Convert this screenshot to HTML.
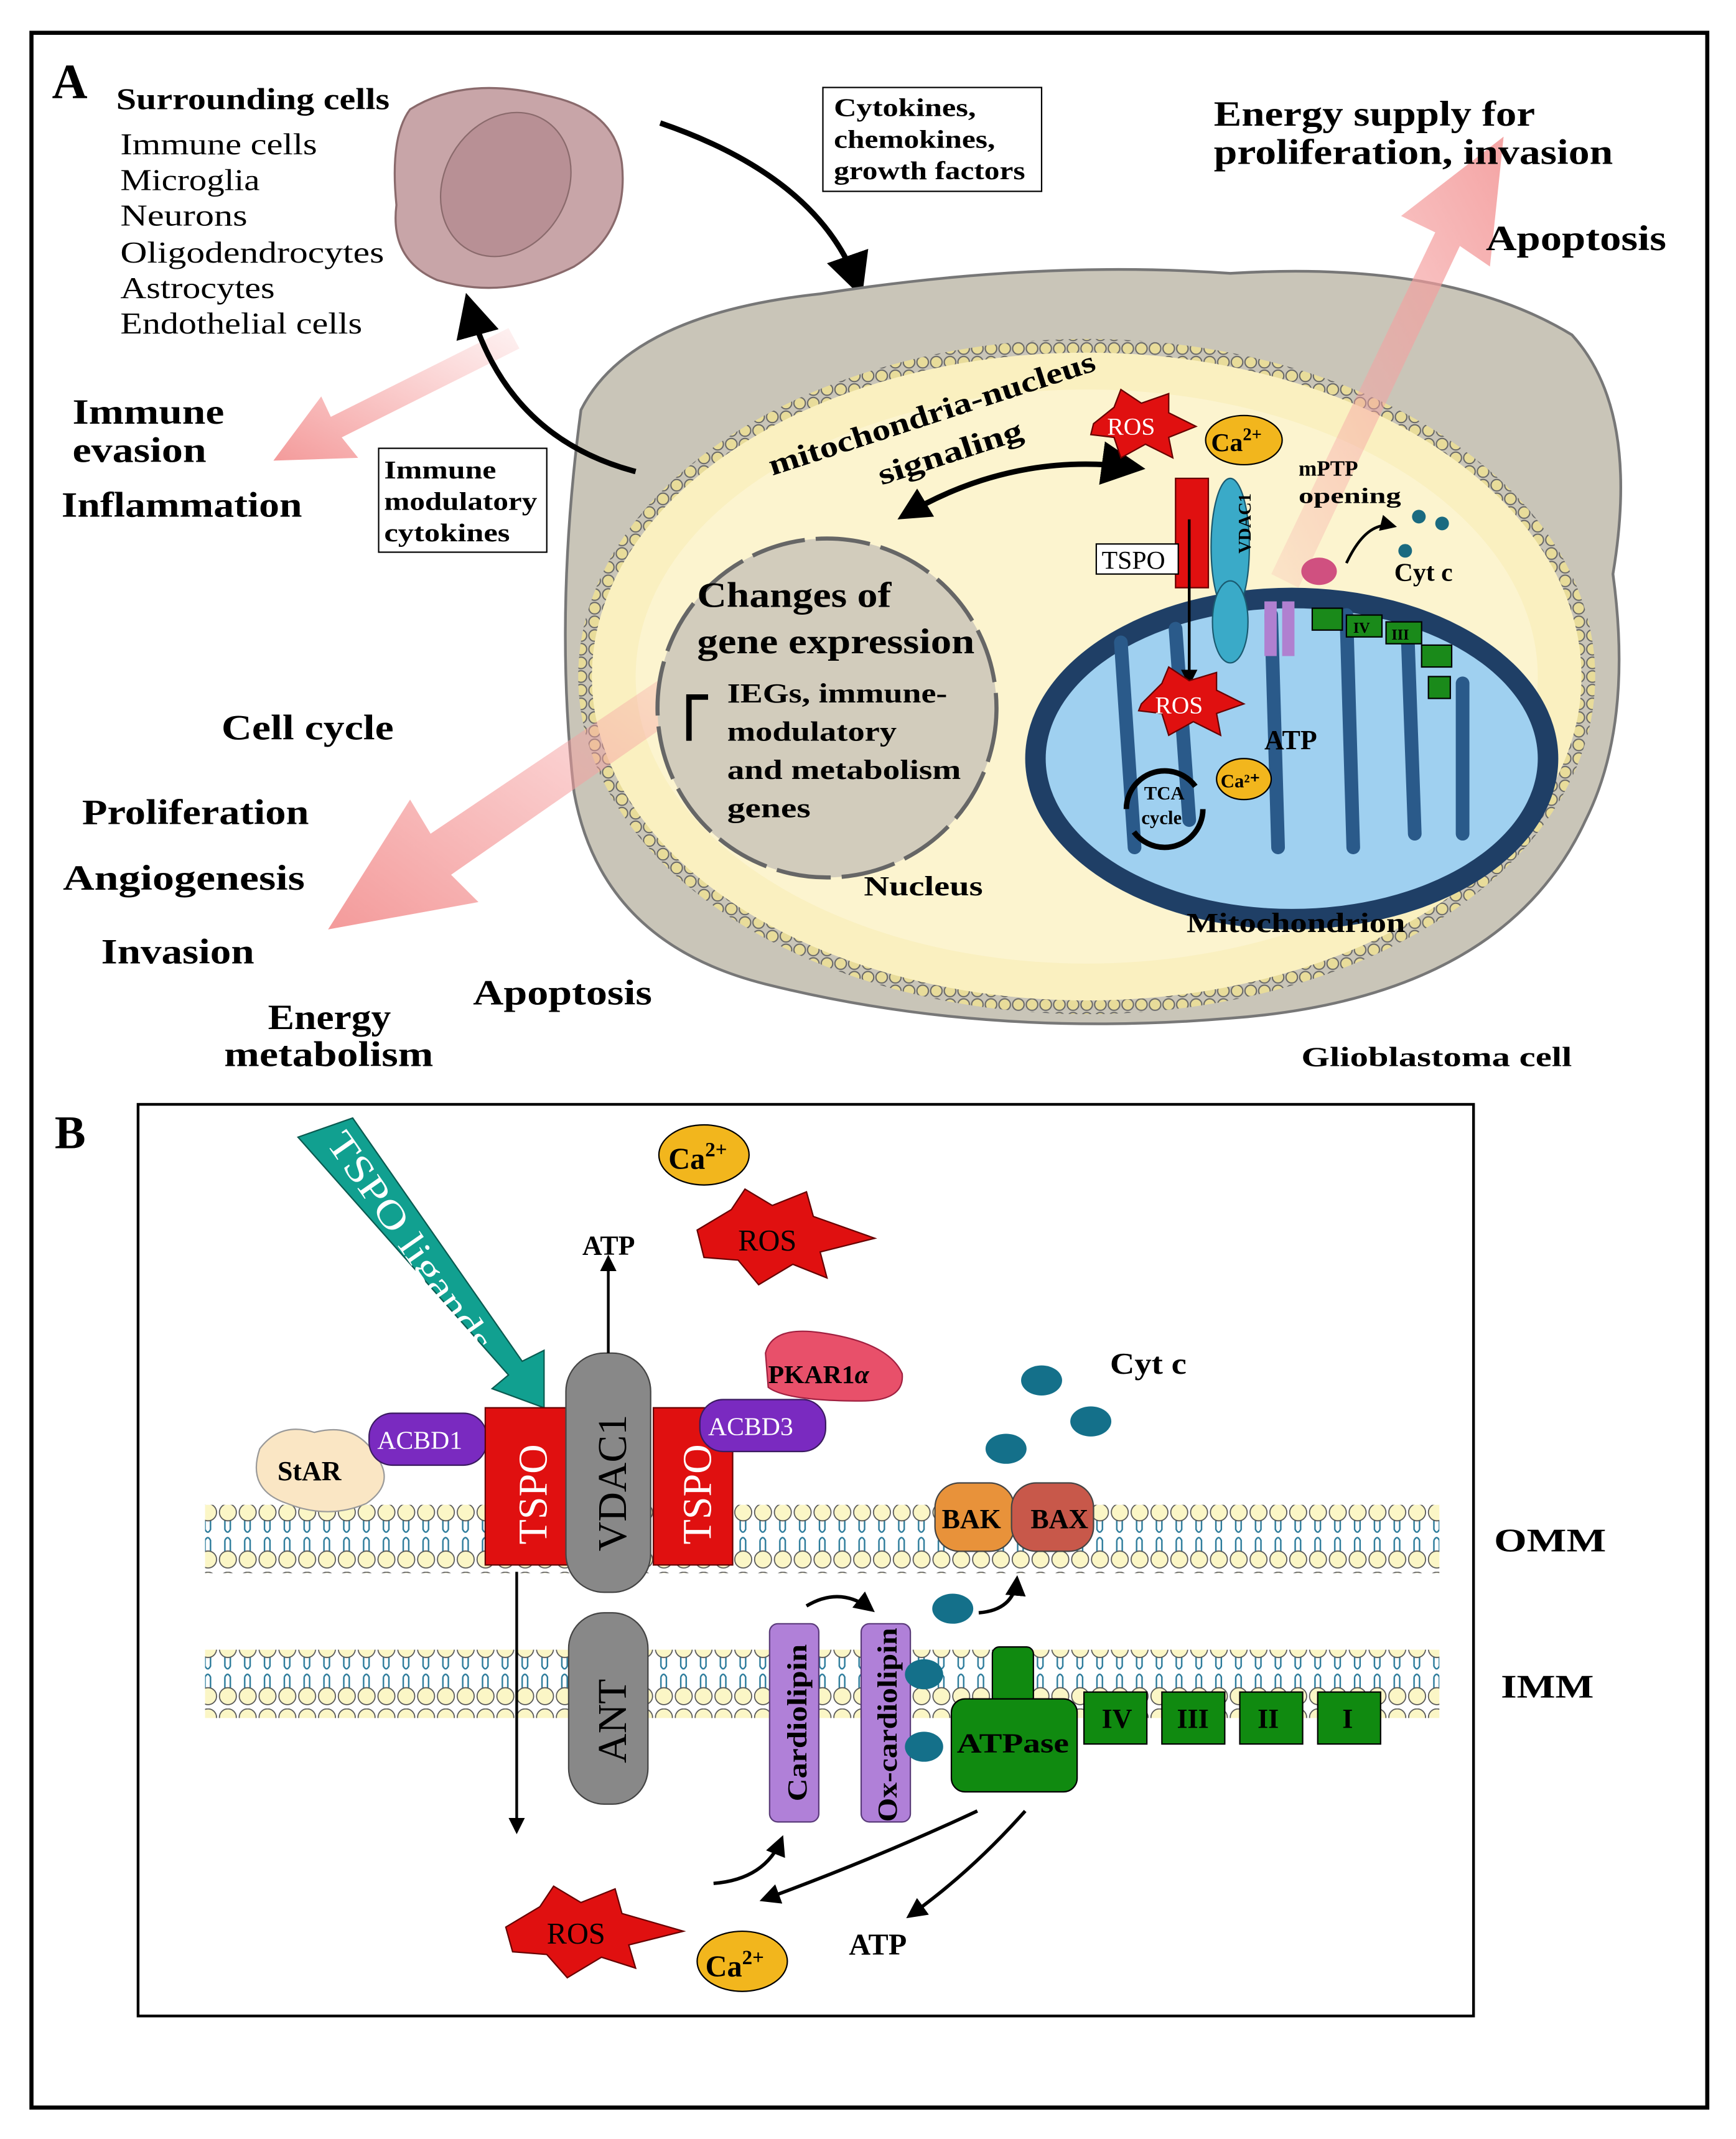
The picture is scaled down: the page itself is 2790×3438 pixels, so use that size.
<!DOCTYPE html>
<html><head><meta charset="utf-8"><style>
html,body{margin:0;padding:0;background:#fff}
svg{display:block}
text{font-family:"Liberation Serif",serif;font-weight:bold}
.n{font-weight:normal}
</style></head><body>
<svg width="2790" height="3438" viewBox="0 0 1270 1565" xmlns="http://www.w3.org/2000/svg">
<defs>
<pattern id="mem" x="0" y="0" width="14.5" height="50" patternUnits="userSpaceOnUse">
<path d="M5 12 v7 q2 4 4 0 v-7 M5 27 q2 -4 4 0 v8 M5 27 v8" stroke="#2a7a9a" stroke-width="1.1" fill="none"/>
<circle cx="7.2" cy="6.5" r="6.2" fill="#fbf6c6" stroke="#555" stroke-width="0.8"/>
<circle cx="7.2" cy="41" r="6.2" fill="#fbf6c6" stroke="#555" stroke-width="0.8"/>
</pattern>
<pattern id="dots" width="10" height="10" patternUnits="userSpaceOnUse"><circle cx="5" cy="5" r="4.2" fill="#e8dc9a" stroke="#666" stroke-width="0.9"/></pattern>
<linearGradient id="pk1" x1="0" y1="1" x2="1" y2="0"><stop offset="0" stop-color="#f7a7a7" stop-opacity="0.2"/><stop offset="1" stop-color="#f39a9a" stop-opacity="0.9"/></linearGradient>
<linearGradient id="pk2" x1="1" y1="0" x2="0" y2="1"><stop offset="0" stop-color="#f7a7a7" stop-opacity="0.15"/><stop offset="1" stop-color="#f39595" stop-opacity="0.95"/></linearGradient>
<marker id="ah" markerWidth="8" markerHeight="8" refX="6" refY="4" orient="auto" markerUnits="strokeWidth"><path d="M0 0 L8 4 L0 8 z" fill="#000"/></marker>
<marker id="ah2" markerWidth="6" markerHeight="6" refX="5" refY="3" orient="auto" markerUnits="strokeWidth"><path d="M0 0 L6 3 L0 6 z" fill="#000"/></marker>
<marker id="as" markerWidth="6" markerHeight="6" refX="1" refY="3" orient="auto" markerUnits="strokeWidth"><path d="M6 0 L0 3 L6 6 z" fill="#000"/></marker>
</defs>
<rect x="0" y="0" width="1270" height="1565" fill="#fff"/>
<rect x="23" y="24" width="1226" height="1518" fill="none" stroke="#000" stroke-width="3"/>
<text x="38" y="72" font-size="36">A</text>
<text x="40" y="840" font-size="34">B</text>

<!-- surrounding cell -->
<path d="M300 80 Q340 55 400 70 Q450 80 455 120 Q460 170 420 195 Q370 220 320 205 Q285 190 290 150 Q285 100 300 80z" fill="#c8a5a8" stroke="#8a6a6c" stroke-width="1.5"/>
<ellipse cx="370" cy="135" rx="45" ry="55" transform="rotate(30 370 135)" fill="#b89095" stroke="#8a6a6c"/>
<text x="85" y="80" font-size="22" textLength="200" lengthAdjust="spacingAndGlyphs">Surrounding cells</text>
<g font-size="22">
<text class="n" x="88" y="113" textLength="144" lengthAdjust="spacingAndGlyphs">Immune cells</text>
<text class="n" x="88" y="139" textLength="102" lengthAdjust="spacingAndGlyphs">Microglia</text>
<text class="n" x="88" y="165" textLength="93" lengthAdjust="spacingAndGlyphs">Neurons</text>
<text class="n" x="88" y="192" textLength="193" lengthAdjust="spacingAndGlyphs">Oligodendrocytes</text>
<text class="n" x="88" y="218" textLength="113" lengthAdjust="spacingAndGlyphs">Astrocytes</text>
<text class="n" x="88" y="244" textLength="177" lengthAdjust="spacingAndGlyphs">Endothelial cells</text>
</g>
<rect x="602" y="64" width="160" height="76" fill="#fff" stroke="#000"/>
<text x="610" y="85" font-size="19" textLength="104" lengthAdjust="spacingAndGlyphs">Cytokines,</text>
<text x="610" y="108" font-size="19" textLength="118" lengthAdjust="spacingAndGlyphs">chemokines,</text>
<text x="610" y="131" font-size="19" textLength="140" lengthAdjust="spacingAndGlyphs">growth factors</text>
<path d="M483 90 Q600 130 628 210" fill="none" stroke="#000" stroke-width="4" marker-end="url(#ah)"/>

<!-- glioblastoma cell -->
<path d="M425 300 Q460 230 600 215 Q760 190 900 200 Q1060 190 1150 245 Q1200 300 1180 420 Q1195 530 1160 600 Q1100 730 900 745 Q720 760 560 720 Q440 690 420 580 Q405 450 425 300z" fill="#c9c5b8" stroke="#777" stroke-width="2"/>
<ellipse cx="795" cy="495" rx="372" ry="247" fill="url(#dots)"/>
<ellipse cx="795" cy="495" rx="362" ry="237" fill="#faf0c0"/>
<ellipse cx="795" cy="495" rx="330" ry="210" fill="#fcf5d5" opacity="0.7"/>
<!-- pink arrows -->
<path d="M930 420 L1050 170 L1025 158 L1100 100 L1090 195 L1068 180 L950 430 z" fill="url(#pk1)"/>
<path d="M560 480 L330 640 L350 660 L240 680 L300 585 L315 610 L545 455 z" fill="url(#pk2)"/>
<path d="M380 255 L250 320 L262 335 L200 337 L235 290 L242 305 L372 240 z" fill="url(#pk2)"/>
<!-- nucleus -->
<circle cx="605" cy="518" r="124" fill="#d2ccbc" stroke="#666" stroke-width="3" stroke-dasharray="40 8"/>
<text x="510" y="444" font-size="26" textLength="142" lengthAdjust="spacingAndGlyphs">Changes of</text>
<text x="510" y="478" font-size="26" textLength="203" lengthAdjust="spacingAndGlyphs">gene expression</text>
<text x="532" y="514" font-size="20" textLength="161" lengthAdjust="spacingAndGlyphs">IEGs, immune-</text>
<text x="532" y="542" font-size="20" textLength="124" lengthAdjust="spacingAndGlyphs">modulatory</text>
<text x="532" y="570" font-size="20" textLength="171" lengthAdjust="spacingAndGlyphs">and metabolism</text>
<text x="532" y="598" font-size="20" textLength="61" lengthAdjust="spacingAndGlyphs">genes</text>
<path d="M504 542 V510 H518" fill="none" stroke="#000" stroke-width="4"/>
<text x="632" y="655" font-size="20" textLength="87" lengthAdjust="spacingAndGlyphs">Nucleus</text>
<text x="565" y="348" font-size="22" transform="rotate(-18 565 348)" textLength="250" lengthAdjust="spacingAndGlyphs">mitochondria-nucleus</text>
<text x="645" y="355" font-size="22" transform="rotate(-18 645 355)" textLength="110" lengthAdjust="spacingAndGlyphs">signaling</text>
<path d="M660 378 Q740 330 830 342" fill="none" stroke="#000" stroke-width="4" marker-start="url(#as)" marker-end="url(#ah)"/>
<!-- mitochondrion -->
<ellipse cx="945" cy="555" rx="195" ry="125" fill="#1f3f66"/>
<ellipse cx="945" cy="555" rx="180" ry="110" fill="#9fd0f0"/>
<path d="M820 470 L830 620 M860 460 L870 600 M930 450 L935 620 M985 450 L990 620 M1030 470 L1035 610 M1070 500 L1070 610" stroke="#2a5a8a" stroke-width="10" stroke-linecap="round"/>
<circle cx="852" cy="592" r="28" fill="none" stroke="#000" stroke-width="4" stroke-dasharray="70 18"/>
<text x="837" y="585" font-size="14">TCA</text><text x="835" y="603" font-size="14">cycle</text>
<ellipse cx="910" cy="570" rx="20" ry="15" fill="#f2b61d" stroke="#000"/><text x="893" y="576" font-size="14">Ca²⁺</text>
<text x="925" y="548" font-size="20">ATP</text>
<text x="868" y="682" font-size="20" textLength="160" lengthAdjust="spacingAndGlyphs">Mitochondrion</text>
<text x="952" y="780" font-size="20" textLength="198" lengthAdjust="spacingAndGlyphs">Glioblastoma cell</text>
<!-- TSPO etc -->
<rect x="860" y="350" width="24" height="80" fill="#e01010" stroke="#600"/>
<ellipse cx="900" cy="400" rx="14" ry="50" fill="#3aaac8" stroke="#1a5a70"/>
<text x="905" y="415" font-size="13" transform="rotate(-90 905 405)">VDAC1</text>
<ellipse cx="900" cy="455" rx="13" ry="30" fill="#3aaac8" stroke="#1a5a70"/>
<rect x="802" y="398" width="60" height="22" fill="#fff" stroke="#000"/><text class="n" x="806" y="416" font-size="19">TSPO</text>
<path d="M870 380 V500" stroke="#000" stroke-width="2" marker-end="url(#ah2)"/>
<rect x="925" y="440" width="9" height="40" fill="#b080d0"/><rect x="938" y="440" width="9" height="40" fill="#b080d0"/>
<rect x="960" y="445" width="22" height="16" fill="#1a8a1a" stroke="#000"/><rect x="985" y="450" width="26" height="16" fill="#1a8a1a" stroke="#000"/><rect x="1014" y="455" width="26" height="16" fill="#1a8a1a" stroke="#000"/><rect x="1040" y="472" width="22" height="16" fill="#1a8a1a" stroke="#000"/><rect x="1045" y="495" width="16" height="16" fill="#1a8a1a" stroke="#000"/>
<text x="990" y="463" font-size="11">IV</text><text x="1018" y="468" font-size="11">III</text>
<ellipse cx="965" cy="418" rx="13" ry="10" fill="#d05080"/>
<path d="M985 412 Q1000 380 1020 385" fill="none" stroke="#000" stroke-width="2" marker-end="url(#ah2)"/>
<circle cx="1038" cy="378" r="5" fill="#1a6a80"/><circle cx="1055" cy="383" r="5" fill="#1a6a80"/><circle cx="1028" cy="403" r="5" fill="#1a6a80"/>
<text x="950" y="348" font-size="16">mPTP</text><text x="950" y="368" font-size="16" textLength="75" lengthAdjust="spacingAndGlyphs">opening</text>
<text x="1020" y="425" font-size="19">Cyt c</text>
<polygon points="800,310 815,298 820,285 835,295 855,288 855,302 875,312 855,320 858,335 838,325 820,335 815,320 798,318" fill="#e01010" stroke="#600"/>
<text class="n" x="810" y="318" font-size="18" fill="#fff">ROS</text>
<ellipse cx="910" cy="322" rx="28" ry="18" fill="#f2b61d" stroke="#000"/><text x="886" y="330" font-size="19">Ca<tspan dy="-8" font-size="13">2+</tspan></text>
<polygon points="835,515 850,500 855,488 870,498 890,492 890,505 910,515 890,522 893,538 873,528 855,538 850,522 833,520" fill="#e01010" stroke="#600"/>
<text class="n" x="845" y="522" font-size="18" fill="#fff">ROS</text>
<text x="888" y="92" font-size="26" textLength="235" lengthAdjust="spacingAndGlyphs">Energy supply for</text>
<text x="888" y="120" font-size="26" textLength="292" lengthAdjust="spacingAndGlyphs">proliferation, invasion</text>
<text x="1087" y="183" font-size="26" textLength="132" lengthAdjust="spacingAndGlyphs">Apoptosis</text>
<!-- left labels -->
<text x="53" y="310" font-size="26" textLength="111" lengthAdjust="spacingAndGlyphs">Immune</text>
<text x="53" y="338" font-size="26" textLength="98" lengthAdjust="spacingAndGlyphs">evasion</text>
<text x="45" y="378" font-size="26" textLength="176" lengthAdjust="spacingAndGlyphs">Inflammation</text>
<rect x="277" y="328" width="123" height="76" fill="#fff" stroke="#000"/>
<text x="281" y="350" font-size="19" textLength="82" lengthAdjust="spacingAndGlyphs">Immune</text><text x="281" y="373" font-size="19" textLength="112" lengthAdjust="spacingAndGlyphs">modulatory</text><text x="281" y="396" font-size="19" textLength="92" lengthAdjust="spacingAndGlyphs">cytokines</text>
<path d="M465 345 Q370 320 343 222" fill="none" stroke="#000" stroke-width="4" marker-end="url(#ah)"/>
<text x="162" y="541" font-size="26" textLength="126" lengthAdjust="spacingAndGlyphs">Cell cycle</text>
<text x="60" y="603" font-size="26" textLength="166" lengthAdjust="spacingAndGlyphs">Proliferation</text>
<text x="46" y="651" font-size="26" textLength="177" lengthAdjust="spacingAndGlyphs">Angiogenesis</text>
<text x="74" y="705" font-size="26" textLength="112" lengthAdjust="spacingAndGlyphs">Invasion</text>
<text x="346" y="735" font-size="26" textLength="131" lengthAdjust="spacingAndGlyphs">Apoptosis</text>
<text x="196" y="753" font-size="26" textLength="90" lengthAdjust="spacingAndGlyphs">Energy</text>
<text x="164" y="780" font-size="26" textLength="153" lengthAdjust="spacingAndGlyphs">metabolism</text>

<!-- panel B -->
<rect x="101" y="808" width="977" height="667" fill="none" stroke="#000" stroke-width="2"/>
<rect x="150" y="1101" width="903" height="50" fill="url(#mem)"/>
<rect x="150" y="1207" width="903" height="50" fill="url(#mem)"/>
<!-- TSPO ligands arrow -->
<path d="M218 832 L258 818 L382 996 L398 988 L398 1030 L360 1016 L372 1006 z" fill="#11a090" stroke="#0a5a50"/>
<text class="n" x="238" y="836" font-size="28" fill="#fff" transform="rotate(55 238 836)" textLength="190" lengthAdjust="spacingAndGlyphs">TSPO ligands</text>
<!-- proteins -->
<path d="M190 1060 Q205 1040 230 1048 Q260 1040 275 1065 Q290 1085 268 1100 Q240 1112 210 1100 Q180 1090 190 1060z" fill="#fae6c4" stroke="#999"/>
<text x="203" y="1083" font-size="20">StAR</text>
<rect x="270" y="1034" width="86" height="38" rx="17" fill="#7a2ac0" stroke="#3a1a60"/>
<text class="n" x="276" y="1060" font-size="19" fill="#fff">ACBD1</text>
<rect x="355" y="1030" width="62" height="115" fill="#e01010" stroke="#600"/>
<text class="n" x="400" y="1130" font-size="30" fill="#fff" transform="rotate(-90 400 1130)">TSPO</text>
<rect x="414" y="990" width="62" height="175" rx="28" fill="#888" stroke="#444"/>
<text class="n" x="458" y="1135" font-size="30" transform="rotate(-90 458 1135)">VDAC1</text>
<rect x="416" y="1180" width="58" height="140" rx="26" fill="#888" stroke="#444"/>
<text class="n" x="458" y="1290" font-size="30" transform="rotate(-90 458 1290)">ANT</text>
<rect x="478" y="1030" width="58" height="115" fill="#e01010" stroke="#600"/>
<text class="n" x="520" y="1130" font-size="30" fill="#fff" transform="rotate(-90 520 1130)">TSPO</text>
<rect x="512" y="1024" width="92" height="38" rx="17" fill="#7a2ac0" stroke="#3a1a60"/>
<text class="n" x="518" y="1050" font-size="19" fill="#fff">ACBD3</text>
<path d="M560 990 Q565 970 600 975 Q650 982 660 1005 Q662 1025 630 1025 Q575 1025 562 1015z" fill="#e8506a" stroke="#a02040"/>
<text x="562" y="1012" font-size="19">PKAR1<tspan font-style="italic">α</tspan></text>
<path d="M445 990 V920" stroke="#000" stroke-width="2" marker-end="url(#ah2)"/>
<path d="M378 1150 V1340" stroke="#000" stroke-width="2" marker-end="url(#ah2)"/>
<text x="426" y="918" font-size="20">ATP</text>
<ellipse cx="515" cy="845" rx="33" ry="22" fill="#f2b61d" stroke="#000"/><text x="489" y="855" font-size="22">Ca<tspan dy="-9" font-size="15">2+</tspan></text>
<polygon points="510,900 535,885 545,870 565,882 590,872 595,890 640,906 600,916 605,935 580,925 555,940 540,922 515,920" fill="#e01010" stroke="#600"/>
<text class="n" x="540" y="915" font-size="22">ROS</text>
<rect x="684" y="1085" width="58" height="50" rx="18" fill="#e8923a" stroke="#444"/>
<rect x="740" y="1085" width="60" height="50" rx="18" fill="#c8584a" stroke="#444"/>
<text x="689" y="1118" font-size="20">BAK</text><text x="754" y="1118" font-size="20">BAX</text>
<ellipse cx="762" cy="1010" rx="15" ry="11" fill="#14708a"/><ellipse cx="798" cy="1040" rx="15" ry="11" fill="#14708a"/><ellipse cx="736" cy="1060" rx="15" ry="11" fill="#14708a"/><ellipse cx="697" cy="1177" rx="15" ry="11" fill="#14708a"/>
<text x="812" y="1005" font-size="22" textLength="56" lengthAdjust="spacingAndGlyphs">Cyt c</text>
<path d="M716 1180 Q742 1178 744 1155" fill="none" stroke="#000" stroke-width="2.5" marker-end="url(#ah2)"/>
<rect x="563" y="1188" width="36" height="145" rx="6" fill="#b080d8" stroke="#5a3a7a"/>
<text x="590" y="1318" font-size="20" transform="rotate(-90 590 1318)" textLength="115" lengthAdjust="spacingAndGlyphs">Cardiolipin</text>
<rect x="630" y="1188" width="36" height="145" rx="6" fill="#b080d8" stroke="#5a3a7a"/>
<text x="656" y="1333" font-size="20" transform="rotate(-90 656 1333)" textLength="142" lengthAdjust="spacingAndGlyphs">Ox-cardiolipin</text>
<ellipse cx="676" cy="1225" rx="14" ry="11" fill="#14708a"/><ellipse cx="676" cy="1278" rx="14" ry="11" fill="#14708a"/>
<path d="M590 1175 Q615 1160 638 1178" fill="none" stroke="#000" stroke-width="2.5" marker-end="url(#ah2)"/>
<rect x="726" y="1205" width="30" height="42" rx="5" fill="#108a10" stroke="#000"/>
<rect x="696" y="1243" width="92" height="68" rx="10" fill="#108a10" stroke="#000"/>
<text x="700" y="1282" font-size="20" textLength="82" lengthAdjust="spacingAndGlyphs">ATPase</text>
<rect x="793" y="1238" width="46" height="38" fill="#108a10" stroke="#000"/><text x="806" y="1264" font-size="20">IV</text>
<rect x="850" y="1238" width="46" height="38" fill="#108a10" stroke="#000"/><text x="861" y="1264" font-size="20">III</text>
<rect x="907" y="1238" width="46" height="38" fill="#108a10" stroke="#000"/><text x="920" y="1264" font-size="20">II</text>
<rect x="964" y="1238" width="46" height="38" fill="#108a10" stroke="#000"/><text x="982" y="1264" font-size="20">I</text>
<text x="1093" y="1135" font-size="24" textLength="82" lengthAdjust="spacingAndGlyphs">OMM</text>
<text x="1098" y="1242" font-size="24" textLength="68" lengthAdjust="spacingAndGlyphs">IMM</text>
<path d="M522 1378 Q560 1375 572 1345" fill="none" stroke="#000" stroke-width="2.5" marker-end="url(#ah2)"/>
<path d="M715 1325 Q640 1360 558 1390" fill="none" stroke="#000" stroke-width="2.5" marker-end="url(#ah2)"/>
<path d="M750 1325 Q710 1370 665 1402" fill="none" stroke="#000" stroke-width="2.5" marker-end="url(#ah2)"/>
<polygon points="370,1410 395,1395 405,1380 425,1392 450,1382 455,1400 500,1413 460,1423 465,1440 440,1432 415,1447 400,1430 375,1428" fill="#e01010" stroke="#600"/>
<text class="n" x="400" y="1422" font-size="22">ROS</text>
<ellipse cx="543" cy="1435" rx="33" ry="22" fill="#f2b61d" stroke="#000"/><text x="516" y="1446" font-size="22">Ca<tspan dy="-9" font-size="15">2+</tspan></text>
<text x="621" y="1430" font-size="22">ATP</text>
</svg>
</body></html>
